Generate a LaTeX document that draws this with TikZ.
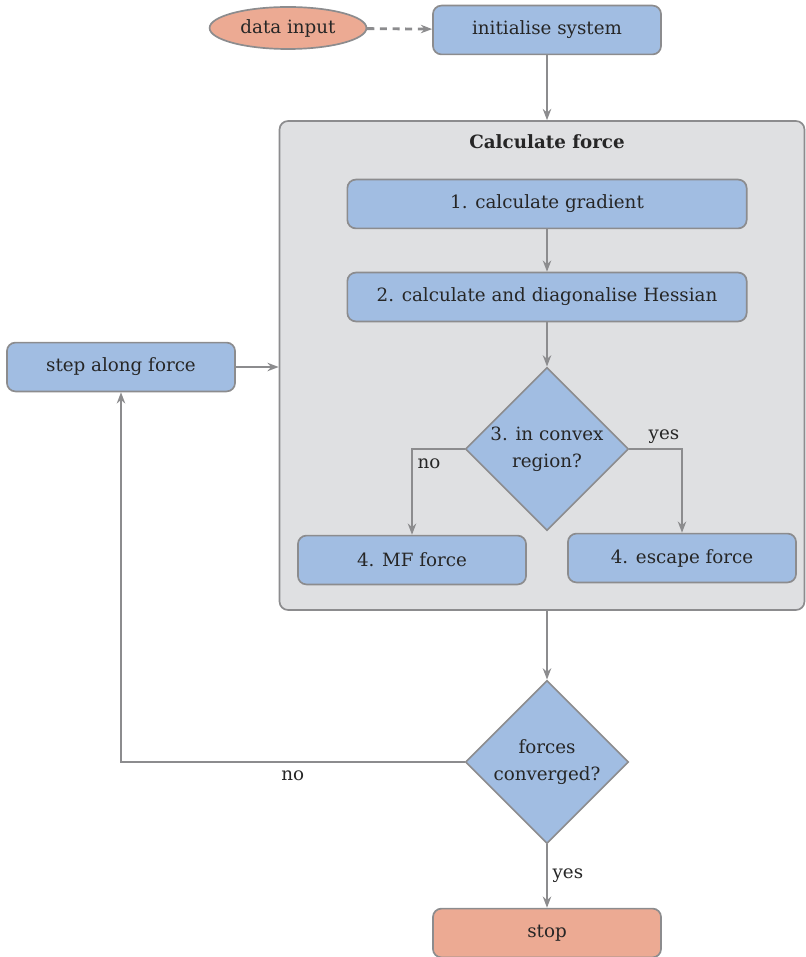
\documentclass[tikz,border=0pt]{standalone}
\usepackage{fontspec}
\setmainfont{DejaVu Serif}
\usepackage{tikz}
\usetikzlibrary{positioning, arrows.meta, shapes.geometric}
\definecolor{fInk}{HTML}{262626}
\definecolor{fLine}{HTML}{8C8C8E}
\definecolor{fBlue}{HTML}{A1BDE2}
\definecolor{fSalmon}{HTML}{ECAA93}
\definecolor{fGrey}{HTML}{DFE0E2}
\tikzset{
  every node/.style={text=fInk, font=\fontsize{13}{19}\selectfont},
  procbox/.style={draw=fLine, fill=fBlue, line width=1.2pt, rounded corners=6pt, minimum width=5.7cm, minimum height=1.22cm},
  endbox/.style={procbox, fill=fSalmon},
  widebox/.style={procbox, minimum width=9.98cm},
  decide/.style={draw=fLine, fill=fBlue, line width=1.2pt, diamond, aspect=1, minimum size=4.08cm, inner sep=0pt, align=center},
  flow/.style={draw=fLine, line width=2pt, -{Stealth[length=8pt, width=6pt]}},
  label/.style={inner sep=3pt}
}
\begin{document}
\begin{tikzpicture}[x=0.025cm, y=-0.025cm]
  \useasboundingbox (0,0) rectangle (805,957);
  % grey container for the force step
  \node[draw=fLine, fill=fGrey, line width=1.2pt, rounded corners=6pt, minimum width=13.12cm, minimum height=12.22cm] (calcbox) at (542,365.5) {};
  \node[font=\fontsize{13}{19}\selectfont\bfseries] (title) at (547,142) {Calculate force};

  \node[draw=fLine, fill=fSalmon, line width=1.2pt, ellipse, minimum width=3.92cm, minimum height=1.05cm, inner sep=0pt] (input) at (288,28) {data input};
  \node[procbox] (init) at (547,30) {initialise system};
  \node[widebox] (grad) at (547,204) {1. calculate gradient};
  \node[widebox] (hess) at (547,297) {2. calculate and diagonalise Hessian};
  \node[decide] (convex) at (547,449) {3. in convex\\region?};
  \node[procbox] (mf) at (412,560) {4. MF force};
  \node[procbox] (escape) at (682,558) {4. escape force};
  \node[procbox] (stepper) at (121,367) {step along force};
  \node[decide] (conv) at (547,762) {forces\\converged?};
  \node[endbox] (stop) at (547,933) {stop};

  \draw[flow, dashed, dash pattern=on 5pt off 4pt] (input) -- (init);
  \draw[flow] (init.south) -- (init.south |- calcbox.north);
  \draw[flow] (grad) -- (hess);
  \draw[flow] (hess) -- (convex);
  \draw[flow] (convex.west) -| node[label, below right, yshift=-3pt] {no} (mf.north);
  \draw[flow] (convex.east) -| node[label, above left, xshift=2pt] {yes} (escape.north);
  \draw[flow] (conv.north |- calcbox.south) -- (conv.north);
  \draw[flow] (conv.west) -| node[label, pos=0.25, below=2pt] {no} (stepper.south);
  \draw[flow] (stepper.east) -- (stepper.east -| calcbox.west);
  \draw[flow] (conv.south) -- node[label, right] {yes} (stop.north);
\end{tikzpicture}
\end{document}
